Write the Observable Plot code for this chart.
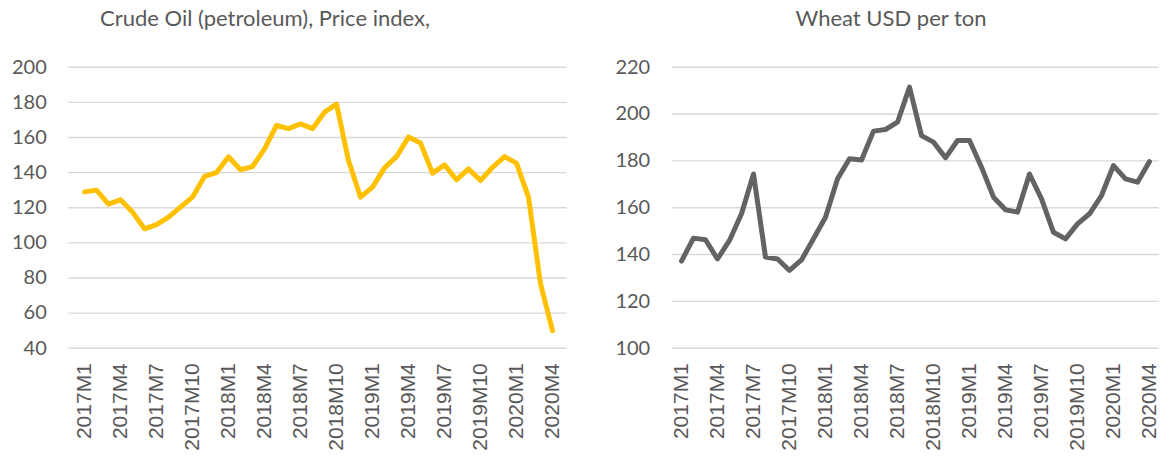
<!DOCTYPE html>
<html>
<head>
<meta charset="utf-8">
<script src="https://cdn.jsdelivr.net/npm/d3@7"></script>
<script src="https://cdn.jsdelivr.net/npm/@observablehq/plot@0.6"></script>
<style>
  html, body { margin: 0; padding: 0; background: #fff; }
  #wrap { position: relative; width: 1166px; height: 458px; overflow: hidden; }
  .panel { position: absolute; top: 0; }
  .title { position: absolute; top: 4px; font-family: Lato, "Open Sans", sans-serif; font-size: 22px; color: #595959; white-space: nowrap; transform: translateX(-50%); }
</style>
</head>
<body>
<div id="wrap">
  <div class="panel" id="left" style="left:0px"></div>
  <div class="panel" id="right" style="left:583px"></div>
  <div class="title" id="t1" style="left:265px"></div>
  <div class="title" id="t2" style="left:891px"></div>
</div>
<script>
const months = [
  "2017M1","2017M2","2017M3","2017M4","2017M5","2017M6","2017M7","2017M8","2017M9","2017M10","2017M11","2017M12",
  "2018M1","2018M2","2018M3","2018M4","2018M5","2018M6","2018M7","2018M8","2018M9","2018M10","2018M11","2018M12",
  "2019M1","2019M2","2019M3","2019M4","2019M5","2019M6","2019M7","2019M8","2019M9","2019M10","2019M11","2019M12",
  "2020M1","2020M2","2020M3","2020M4"
];
const tickLabels = ["2017M1","2017M4","2017M7","2017M10","2018M1","2018M4","2018M7","2018M10","2019M1","2019M4","2019M7","2019M10","2020M1","2020M4"];
const oilTitle = "Crude Oil (petroleum), Price index,";
const wheatTitle = "Wheat USD per ton";
const oil = [129,130,122,124.5,117.5,108,110.4,114.6,120.3,126,137.8,140,
  149,141.6,143.4,153.5,166.8,165,167.7,165,174.4,179,146.9,126,
  131.7,142.7,149.1,160.2,156.9,139.7,144.4,135.9,142.1,135.5,143,149.1,
  145.4,126,76.7,50];
const wheat = [137.2,147,146.3,138.1,146,157.4,174.4,138.9,138.1,133.2,137.7,146.7,
  155.9,172.3,180.9,180.4,192.7,193.4,196.5,211.5,190.8,188,181.3,188.7,
  188.7,177.3,164.5,159.1,158.1,174.4,163.8,149.5,146.7,153.1,157.4,165.2,
  178,172.3,170.9,179.7];
const oilTicks = [40,60,80,100,120,140,160,180,200];
const wheatTicks = [100,120,140,160,180,200,220];

function chart(values, color, yDomain, yTicks, mLeft, mRight) {
  const data = months.map((m, i) => ({m, v: values[i]}));
  return Plot.plot({
    width: 583, height: 458,
    marginTop: 66.7, marginBottom: 110.3, marginLeft: mLeft, marginRight: mRight,
    style: {fontFamily: "Lato, sans-serif", background: "#fff", color: "#595959", overflow: "visible"},
    x: {type: "point", domain: months, padding: 0.5, label: null},
    y: {domain: yDomain, label: null},
    marks: [
      Plot.gridY(yTicks, {stroke: "#d9d9d9", strokeOpacity: 1, strokeWidth: 1.4}),
      Plot.axisY(yTicks, {tickSize: 0, tickPadding: 22, fontSize: 20, fill: "#595959", label: null}),
      Plot.axisX(tickLabels, {tickSize: 0, tickPadding: 15, tickRotate: -90, fontSize: 21, fontFamily: "'Liberation Sans', Arial, sans-serif", fill: "#595959", label: null}),
      Plot.line(data, {x: "m", y: "v", stroke: color, strokeWidth: 5, strokeLinejoin: "round", strokeLinecap: "round"})
    ]
  });
}
document.getElementById("left").append(chart(oil, "#ffc000", [40,200], oilTicks, 68.3, 16.3));
document.getElementById("right").append(chart(wheat, "#636363", [100,220], wheatTicks, 88.7, 7.3));
document.getElementById("t1").textContent = oilTitle;
document.getElementById("t2").textContent = wheatTitle;
</script>
</body>
</html>
